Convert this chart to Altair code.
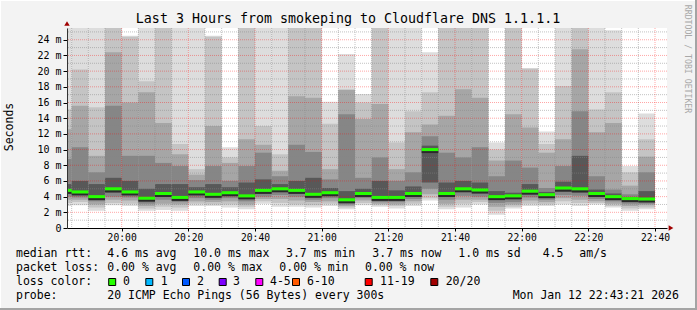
import altair as alt
import pandas as pd

# ---------------- data ----------------
TITLE = "Last 3 Hours from smokeping to Cloudflare DNS 1.1.1.1"
Y_TITLE = "Seconds"
SIDE_TEXT = "RRDTOOL / TOBI OETIKER"

# end time of each 5-minute step (first one is only partly visible)
BAR_END = ["19:45", "19:50", "19:55", "20:00", "20:05", "20:10", "20:15", "20:20",
           "20:25", "20:30", "20:35", "20:40", "20:45", "20:50", "20:55", "21:00",
           "21:05", "21:10", "21:15", "21:20", "21:25", "21:30", "21:35", "21:40",
           "21:45", "21:50", "21:55", "22:00", "22:05", "22:10", "22:15", "22:20",
           "22:25", "22:30", "22:35", "22:40"]

# smoke band edges in ms (outermost = 1, innermost = 5), upper and lower side
U1 = [27, 27, 27, 32, 24.5, 27, 30, 27, 27, 24.5, 10.3, 30, 27, 27, 30, 30, 16.1, 22.2,
      17.1, 32, 27, 27, 22.4, 30, 30, 30, 10.9, 32, 20.4, 12.3, 27, 32, 27, 25.2, 7.9, 14.6]
U2 = [15.1, 20.2, 15.4, 28, 24.4, 18.7, 27, 10.7, 7.5, 24.4, 9.0, 27, 13.0, 9.4, 27, 27, 13.3, 17.7,
      16.0, 28, 10.9, 14.9, 17.3, 27, 27, 27, 10.0, 28, 20.3, 10.7, 18.1, 28, 15.1, 17.3, 7.1, 11.3]
U3 = [12.6, 15.6, 9.2, 22.4, 16.0, 17.3, 13.4, 9.4, 6.8, 13.0, 8.3, 11.3, 10.6, 7.3, 16.8, 16.6, 7.5, 17.6,
      13.9, 15.8, 7.5, 12.2, 13.2, 14.3, 17.7, 16.6, 8.6, 14.5, 12.8, 9.6, 11.3, 22.8, 12.2, 13.4, 5.4, 9.1]
U4 = [8.8, 10.3, 7.1, 15.6, 9.2, 9.2, 8.3, 7.9, 6.1, 7.9, 6.0, 7.9, 9.6, 6.6, 10.6, 9.7, 6.2, 14.5,
      6.4, 9.0, 6.0, 7.1, 11.7, 9.6, 9.0, 10.3, 6.6, 8.6, 7.7, 5.1, 7.9, 14.9, 6.6, 4.9, 4.3, 7.1]
U5 = [5.6, 6.0, 5.6, 6.4, 6.0, 5.0, 5.6, 5.6, 5.2, 5.6, 5.2, 5.8, 6.2, 5.6, 6.0, 6.4, 5.1, 4.7,
      5.0, 6.0, 4.8, 5.3, 10.5, 5.8, 6.0, 5.8, 4.7, 4.5, 5.6, 4.6, 5.9, 9.2, 4.9, 4.4, 3.9, 4.7]
MEDIAN = [4.8, 4.6, 4.0, 5.0, 4.6, 3.8, 4.4, 3.9, 4.6, 4.3, 4.5, 4.1, 4.8, 5.0, 4.8, 4.3, 4.5, 3.6,
          4.4, 3.9, 3.9, 4.4, 10.0, 4.4, 5.0, 4.85, 4.0, 4.1, 4.7, 4.25, 5.1, 5.0, 4.4, 4.0, 3.75, 3.7]
L5 = [4.4, 4.3, 3.7, 4.5, 4.2, 3.5, 4.0, 3.6, 4.2, 3.9, 4.2, 3.7, 4.4, 4.6, 4.4, 3.9, 4.2, 3.3,
      4.1, 3.6, 3.6, 4.0, 5.8, 4.0, 4.6, 4.4, 3.6, 3.7, 4.3, 3.9, 4.6, 4.5, 4.0, 3.7, 3.4, 3.4]
L4 = [4.0, 3.9, 3.4, 4.0, 3.9, 3.1, 3.6, 3.3, 3.8, 3.6, 3.8, 3.4, 4.0, 4.2, 4.0, 3.6, 3.8, 3.0,
      3.8, 3.3, 3.3, 3.7, 5.0, 3.6, 4.1, 4.0, 3.2, 3.3, 3.9, 3.6, 4.2, 4.1, 3.7, 3.4, 3.1, 3.1]
L3 = [3.6, 3.6, 3.0, 3.6, 3.5, 2.8, 3.1, 3.0, 3.4, 3.3, 3.4, 3.0, 3.7, 3.7, 3.5, 3.3, 3.4, 2.8,
      3.5, 3.1, 3.0, 3.4, 4.3, 3.1, 3.6, 3.6, 2.7, 3.0, 3.5, 3.3, 3.8, 3.6, 3.4, 3.1, 2.8, 2.9]
L2 = [3.2, 3.3, 2.6, 3.2, 3.1, 2.5, 2.7, 2.6, 3.1, 3.0, 3.0, 2.7, 3.4, 3.2, 3.0, 2.9, 3.1, 2.6,
      3.2, 2.9, 2.8, 3.1, 3.8, 2.7, 3.1, 3.3, 2.2, 2.7, 3.1, 3.0, 3.4, 3.2, 3.2, 2.8, 2.5, 2.6]
L1 = [2.8, 2.9, 2.2, 2.9, 2.8, 2.2, 2.3, 2.2, 2.8, 2.8, 2.6, 2.4, 3.1, 2.7, 2.7, 2.6, 2.8, 2.4,
      2.9, 2.7, 2.5, 2.8, 3.5, 2.4, 2.6, 3.0, 1.7, 2.5, 2.8, 2.8, 3.0, 2.8, 3.0, 2.6, 2.2, 2.4]

Y_TICKS = [0, 2, 4, 6, 8, 10, 12, 14, 16, 18, 20, 22, 24]
Y_MINOR = [1, 3, 5, 7, 9, 11, 13, 15, 17, 19, 21, 23, 25]
X_TICKS = ["20:00", "20:20", "20:40", "21:00", "21:20", "21:40", "22:00", "22:20", "22:40"]

RTT_ROW = ["median rtt:", "4.6 ms avg", "10.0 ms max", "3.7 ms min", "3.7 ms now",
           "1.0 ms sd", "4.5", "am/s"]
LOSS_ROW = ["packet loss:", "0.00 % avg", "0.00 % max", "0.00 % min", "0.00 % now"]
LOSS_LABEL = "loss color:"
LOSS_CATS = ["0", "1", "2", "3", "4-5", "6-10", "11-19", "20/20"]
LOSS_COLORS = ["#26ff00", "#00b8ff", "#0059ff", "#7e00ff", "#ff00ff", "#ff5a00", "#ff0000", "#a10000"]
PROBE_ROW = ["probe:", "20 ICMP Echo Pings (56 Bytes) every 300s", "Mon Jan 12 22:43:21 2026"]

# ---------------- helpers ----------------
def to_min(s):
    h, m = s.split(":")
    return (int(h) - 19) * 60 + int(m)

ends = [to_min(s) for s in BAR_END]
starts = [e - 5 for e in ends]

OX, OY = 67, 28          # plot origin on the canvas
W, H = 600, 200
XDOM = [43.6, 223.6]
YDOM = [0, 25.5]
FONT = "DejaVu Sans Mono"

xs = alt.Scale(domain=XDOM, nice=False, zero=False)
ys = alt.Scale(domain=YDOM, nice=False, zero=False)

X_AXIS = alt.Axis(
    values=[to_min(s) for s in X_TICKS],
    labelExpr="format(floor(datum.value/60)+19,'02d') + ':' + format(datum.value%60,'02d')",
    grid=False, tickSize=3, tickColor="#000", domainColor="#000",
    labelFont=FONT, labelFontSize=9.7, labelColor="#000", labelPadding=1,
    labelFlush=False, labelOverlap=False, zindex=1, title=None)
Y_AXIS = alt.Axis(
    values=Y_TICKS,
    labelExpr="datum.value == 0 ? '0' : datum.value + ' m'",
    grid=False, tickSize=4, tickColor="#000", domainColor="#333",
    labelFont=FONT, labelFontSize=10, labelColor="#000", labelPadding=2,
    labelFlush=False, labelOverlap=False, zindex=1, title=None)

def X(field):
    return alt.X(field, scale=xs, axis=X_AXIS, title=None)

def Y(field):
    return alt.Y(field, scale=ys, axis=Y_AXIS, title=None)

LEVEL_COLORS = ["#dddddd", "#c4c4c4", "#a6a6a6", "#868686", "#585858"]
uppers = [U1, U2, U3, U4, U5]
lowers = [L1, L2, L3, L4, L5]

layers = []
for k in range(5):
    df = pd.DataFrame({"t0": starts, "t1": ends, "lo": lowers[k], "hi": uppers[k]})
    layers.append(alt.Chart(df).mark_rect(clip=True, color=LEVEL_COLORS[k]).encode(
        x=X("t0:Q"), x2="t1:Q", y=Y("lo:Q"), y2="hi:Q"))

# grid
x_major = [to_min(s) for s in X_TICKS]
x_minor = [m for m in ends if m not in x_major]
layers.append(alt.Chart(pd.DataFrame({"lo": Y_MINOR})).mark_rule(color="#888888", strokeOpacity=0.5, strokeDash=[1, 1], clip=True)
              .encode(y=Y("lo:Q")))
layers.append(alt.Chart(pd.DataFrame({"t0": x_minor})).mark_rule(color="#888888", strokeOpacity=0.5, strokeDash=[1, 1], clip=True)
              .encode(x=X("t0:Q")))
layers.append(alt.Chart(pd.DataFrame({"lo": Y_TICKS[1:]})).mark_rule(color="#ff0000", strokeOpacity=0.35, strokeDash=[1, 1], clip=True)
              .encode(y=Y("lo:Q")))
layers.append(alt.Chart(pd.DataFrame({"t0": x_major})).mark_rule(color="#ff0000", strokeOpacity=0.35, strokeDash=[1, 1], clip=True)
              .encode(x=X("t0:Q")))

# median
med_df = pd.DataFrame({"t0": starts, "t1": ends, "lo": MEDIAN})
layers.append(alt.Chart(med_df).mark_rule(color="#2a2a2a", strokeWidth=2, strokeCap="butt", yOffset=2.5, clip=True)
              .encode(x=X("t0:Q"), x2="t1:Q", y=Y("lo:Q")))
layers.append(alt.Chart(med_df).mark_rule(color=LOSS_COLORS[0], strokeWidth=3, strokeCap="butt", clip=True)
              .encode(x=X("t0:Q"), x2="t1:Q", y=Y("lo:Q")))

one = pd.DataFrame({"s": [""]})

def txt(s, x, y, size=11.5, color="#000", align="left", angle=0):
    return alt.Chart(pd.DataFrame({"s": [s]})).mark_text(
        align=align, baseline="middle", font=FONT, fontSize=size, color=color, angle=angle
    ).encode(text="s:N", x=alt.value(x - OX), y=alt.value(y - OY))

def rule(x, x2, y, y2, color, width):
    return alt.Chart(one).mark_rule(color=color, strokeWidth=width).encode(
        x=alt.value(x - OX), x2=alt.value(x2 - OX), y=alt.value(y - OY), y2=alt.value(y2 - OY))

# arrows
layers.append(alt.Chart(one).mark_point(shape="triangle-up", filled=True, size=30, color="#a00000", opacity=1)
              .encode(x=alt.value(0), y=alt.value(23.5 - OY)))
layers.append(alt.Chart(one).mark_point(shape="triangle-right", filled=True, size=30, color="#a00000", opacity=1)
              .encode(x=alt.value(671 - OX), y=alt.value(228 - OY)))

# texts
layers.append(txt(TITLE, 348, 19, size=13.3, align="center"))
layers.append(txt(Y_TITLE, 10, 127, size=11.5, align="center", angle=270))
layers.append(txt(SIDE_TEXT, 687, 59, size=8.2, color="#a8a8a8", align="center", angle=90))

rtt_x = [16, 107.3, 193.3, 286, 372.3, 458.3, 542.7, 579.3]
for s, x in zip(RTT_ROW, rtt_x):
    layers.append(txt(s, x, 254))
loss_x = [16, 107.3, 193.3, 279.3, 365]
for s, x in zip(LOSS_ROW, loss_x):
    layers.append(txt(s, x, 268))
layers.append(txt(LOSS_LABEL, 16, 282))
sw_x = [112.2, 149.3, 186, 222.7, 259.3, 296, 368.7, 434.3]
lab_x = [123, 160.7, 197, 233, 270, 307, 380, 445.7]
for c, col, sx, lx in zip(LOSS_CATS, LOSS_COLORS, sw_x, lab_x):
    layers.append(alt.Chart(one).mark_square(size=49, filled=True, color=col, stroke="#000", strokeWidth=1, opacity=1)
                  .encode(x=alt.value(sx - OX), y=alt.value(282 - OY)))
    layers.append(txt(c, lx, 282))
probe_x = [16, 107.3, 512.7]
for s, x in zip(PROBE_ROW, probe_x):
    layers.append(txt(s, x, 296))

# canvas border
layers.append(rule(0, 697, 0.5, 0.5, "#ffffff", 1))
layers.append(rule(0.5, 0.5, 0, 310, "#ffffff", 1))
layers.append(rule(0, 697, 309, 309, "#a4a4a4", 2))
layers.append(rule(696, 696, 0, 310, "#a4a4a4", 2))

chart = alt.layer(*layers).properties(
    width=W, height=H,
    padding={"left": OX, "top": OY, "right": 697 - OX - W, "bottom": 310 - OY - H},
    autosize=alt.AutoSizeParams(type="none"),
).configure(background="#f3f3f3").configure_view(fill="white", stroke=None)

chart.save("out.html", embed_options={"renderer": "svg", "actions": False})
